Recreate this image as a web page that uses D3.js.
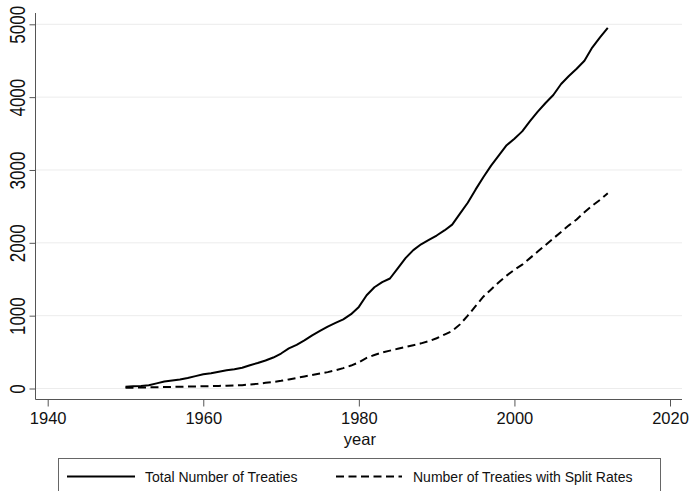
<!DOCTYPE html>
<html>
<head>
<meta charset="utf-8">
<title>treaties</title>
<script src="https://cdn.jsdelivr.net/npm/d3@7"></script>
<style>
  body{margin:0;background:#fff;}
  text{font-family:"Liberation Sans",Arial,Helvetica,sans-serif;fill:#111;}
</style>
</head>
<body>
<script>
var years=[];
for(var y=1950;y<=2012;y++){years.push(y);}

var totalTreaties=[25,30,35,45,70,95,110,125,145,170,
  195,210,230,250,265,285,320,350,385,425,
  480,550,600,660,730,790,850,900,950,1020,
  1120,1280,1390,1460,1510,1650,1790,1900,1980,2040,
  2100,2170,2250,2400,2550,2730,2900,3060,3200,3340,
  3430,3530,3670,3800,3920,4030,4180,4290,4390,4500,
  4680,4820,4950];

var splitTreaties=[10,12,14,16,18,20,22,24,26,28,
  30,33,36,39,42,46,55,65,78,90,
  105,125,145,165,185,205,225,250,280,315,
  360,420,460,495,520,545,570,595,620,650,
  690,740,790,880,1000,1130,1260,1360,1460,1550,
  1630,1700,1790,1880,1970,2060,2150,2240,2320,2420,
  2510,2590,2680];

var xTicks=[1940,1960,1980,2000,2020];
var yTicks=[0,1000,2000,3000,4000,5000];
var seriesNames=["Total Number of Treaties","Number of Treaties with Split Rates"];

var width=691,height=491;
var svg=d3.select("body").append("svg")
  .attr("width",width).attr("height",height);

// plot frame
var plot={left:35.5,right:682,top:13,bottom:399.5};

var x=d3.scaleLinear().domain([1940,2020]).range([47.7,670]);
var yS=d3.scaleLinear().domain([0,5000]).range([388.5,24.3]);

// gridlines
svg.append("g").selectAll("line")
  .data(yTicks).enter().append("line")
  .attr("x1",plot.left).attr("x2",plot.right)
  .attr("y1",function(d){return yS(d);})
  .attr("y2",function(d){return yS(d);})
  .attr("stroke","#ececec").attr("stroke-width",1);

// y axis
var yAxis=d3.axisLeft(yS).tickValues(yTicks).tickSize(6).tickPadding(0).tickFormat(d3.format("d"));
var gy=svg.append("g").attr("transform","translate("+plot.left+",0)").call(yAxis);
gy.select(".domain").attr("d","M0,"+plot.top+"V"+plot.bottom).attr("stroke","#555");
gy.selectAll(".tick line").attr("stroke","#555");
// labels in the reference look wider across than along, so stretch them a bit
gy.selectAll(".tick text")
  .attr("x",0).attr("y",0).attr("dy",0)
  .attr("text-anchor","middle")
  .attr("transform","translate(-11,0) rotate(-90) scale(1,1.35)")
  .style("font-size","17px")
  .attr("fill","#111");

// x axis
var xAxis=d3.axisBottom(x).tickValues(xTicks).tickSize(7).tickPadding(6).tickFormat(d3.format("d"));
var gx=svg.append("g").attr("transform","translate(0,"+plot.bottom+")").call(xAxis);
gx.select(".domain").attr("d","M"+plot.left+",0H"+plot.right).attr("stroke","#555");
gx.selectAll(".tick line").attr("stroke","#555");
gx.selectAll(".tick text").style("font-size","16.5px").attr("fill","#111");

svg.append("text")
  .attr("x",(x(1980)+1)).attr("y",445)
  .attr("text-anchor","middle")
  .style("font-size","16.5px")
  .text("year");

var line=d3.line()
  .x(function(d){return x(d[0]);})
  .y(function(d){return yS(d[1]);});

svg.append("path")
  .attr("d",line(d3.zip(years,totalTreaties)))
  .attr("fill","none").attr("stroke","#000").attr("stroke-width",2)
  .attr("stroke-linejoin","round");

svg.append("path")
  .attr("d",line(d3.zip(years,splitTreaties)))
  .attr("fill","none").attr("stroke","#000").attr("stroke-width",2)
  .attr("stroke-dasharray","8,4.5");

// legend
var leg=svg.append("g");
leg.append("rect")
  .attr("x",58.5).attr("y",458.5).attr("width",602).attr("height",60)
  .attr("fill","#fff").attr("stroke","#666").attr("stroke-width",1);

leg.append("line").attr("x1",67).attr("x2",135).attr("y1",476.5).attr("y2",476.5)
  .attr("stroke","#000").attr("stroke-width",2);
leg.append("text").attr("x",145).attr("y",481.5).style("font-size","14px").text(seriesNames[0]);

leg.append("line").attr("x1",336).attr("x2",402).attr("y1",476.5).attr("y2",476.5)
  .attr("stroke","#000").attr("stroke-width",2).attr("stroke-dasharray","8,4.5");
leg.append("text").attr("x",413).attr("y",481.5).style("font-size","14px").text(seriesNames[1]);
</script>
</body>
</html>
